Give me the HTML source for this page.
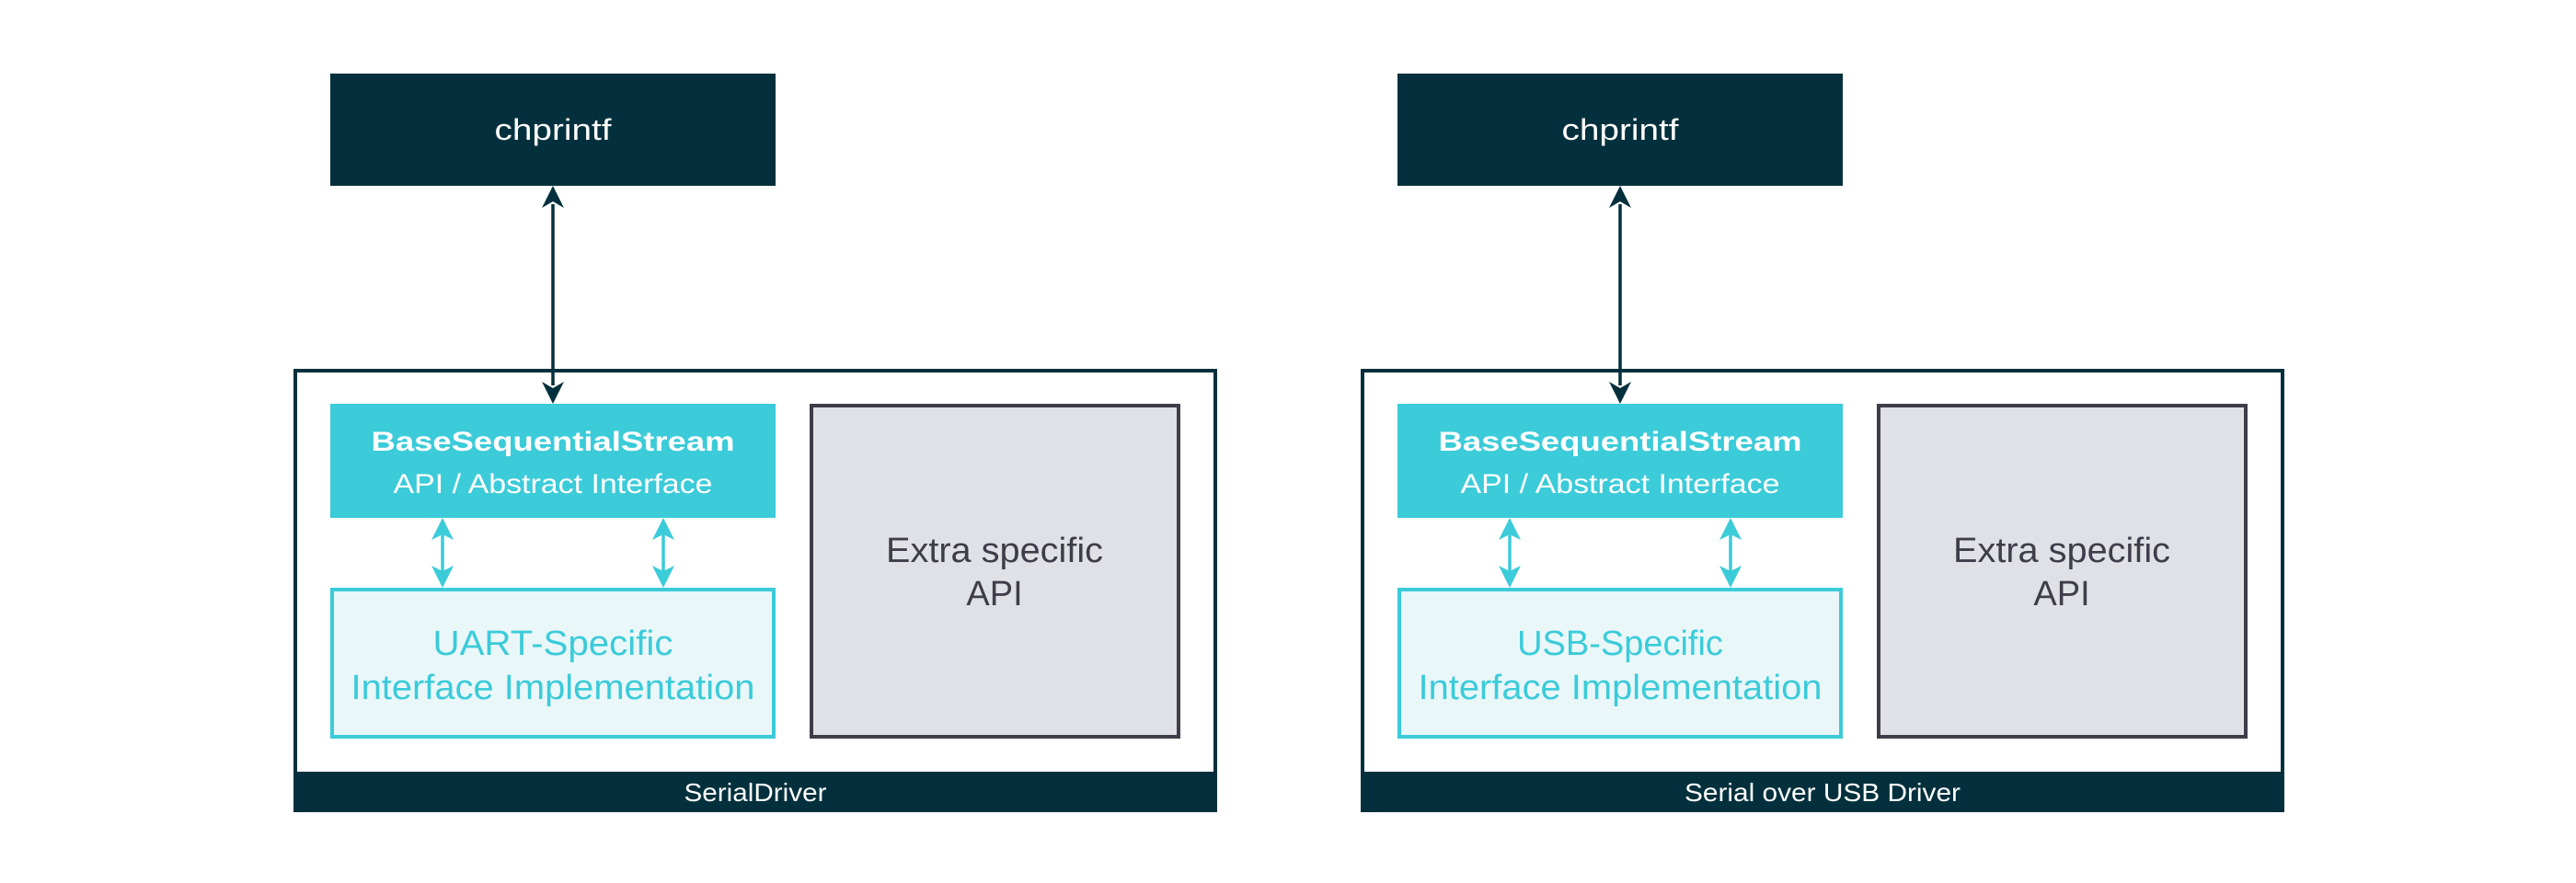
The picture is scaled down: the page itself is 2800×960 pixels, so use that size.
<!DOCTYPE html>
<html><head><meta charset="utf-8"><style>
html,body{margin:0;padding:0;background:#fff;}
svg{display:block;}
</style></head><body>
<svg width="2800" height="960" viewBox="0 0 2800 960" xmlns="http://www.w3.org/2000/svg" font-family="'Liberation Sans', sans-serif">
<defs>
<g id="dia">
  <!-- outer frame -->
  <rect x="321" y="403" width="1000" height="478" fill="#fff" stroke="#03303C" stroke-width="4"/>
  <rect x="319" y="839" width="1004" height="44" fill="#03303C"/>
  <!-- chprintf -->
  <rect x="359" y="80" width="484" height="122" fill="#03303C"/>
  <text x="601" y="152" font-size="32" fill="#fff" text-anchor="middle" textLength="127" lengthAdjust="spacingAndGlyphs">chprintf</text>
  <!-- main arrow -->
  <line x1="601" y1="222" x2="601" y2="419" stroke="#03303C" stroke-width="3.5"/>
  <polygon points="601,202 589,226 601,219 613,226" fill="#03303C"/>
  <polygon points="601,439 589,415 601,422 613,415" fill="#03303C"/>
  <!-- BSS -->
  <rect x="359" y="439" width="484" height="124" fill="#3BCBD9"/>
  <!-- UART -->
  <rect x="361" y="641" width="480" height="160" fill="#E9F7F9" stroke="#3BCBD9" stroke-width="4"/>
  <!-- small arrows -->
  <g fill="#3BCBD9" stroke="#3BCBD9">
    <line x1="481" y1="580" x2="481" y2="622" stroke-width="3.5"/>
    <polygon points="481,563 469,587 481,581 493,587" stroke="none"/>
    <polygon points="481,639 469,615 481,621 493,615" stroke="none"/>
    <line x1="721" y1="580" x2="721" y2="622" stroke-width="3.5"/>
    <polygon points="721,563 709,587 721,581 733,587" stroke="none"/>
    <polygon points="721,639 709,615 721,621 733,615" stroke="none"/>
  </g>
  <!-- extra -->
  <rect x="882" y="441" width="399" height="360" fill="#E0E1E6" stroke="#3F3D4A" stroke-width="4"/>
  <text x="1081" y="611" font-size="38" fill="#3F3D4A" text-anchor="middle" textLength="236" lengthAdjust="spacingAndGlyphs">Extra specific</text>
  <text x="1081" y="658" font-size="38" fill="#3F3D4A" text-anchor="middle">API</text>
</g>
</defs>
<use href="#dia"/>
<use href="#dia" transform="translate(1160,0)"/>

<!-- left texts -->
<text x="601" y="490" font-size="30" font-weight="bold" fill="#fff" text-anchor="middle" textLength="395" lengthAdjust="spacingAndGlyphs">BaseSequentialStream</text>
<text x="601" y="536" font-size="30" fill="#fff" text-anchor="middle" textLength="347" lengthAdjust="spacingAndGlyphs">API / Abstract Interface</text>
<text x="601" y="712" font-size="38" fill="#3BCBD9" text-anchor="middle" textLength="261" lengthAdjust="spacingAndGlyphs">UART-Specific</text>
<text x="601" y="760" font-size="38" fill="#3BCBD9" text-anchor="middle" textLength="439" lengthAdjust="spacingAndGlyphs">Interface Implementation</text>
<text x="821" y="871" font-size="28" fill="#fff" text-anchor="middle" textLength="155" lengthAdjust="spacingAndGlyphs">SerialDriver</text>

<!-- right texts -->
<text x="1761" y="490" font-size="30" font-weight="bold" fill="#fff" text-anchor="middle" textLength="395" lengthAdjust="spacingAndGlyphs">BaseSequentialStream</text>
<text x="1761" y="536" font-size="30" fill="#fff" text-anchor="middle" textLength="347" lengthAdjust="spacingAndGlyphs">API / Abstract Interface</text>
<text x="1761" y="712" font-size="38" fill="#3BCBD9" text-anchor="middle">USB-Specific</text>
<text x="1761" y="760" font-size="38" fill="#3BCBD9" text-anchor="middle" textLength="439" lengthAdjust="spacingAndGlyphs">Interface Implementation</text>
<text x="1981" y="871" font-size="28" fill="#fff" text-anchor="middle" textLength="300" lengthAdjust="spacingAndGlyphs">Serial over USB Driver</text>
</svg>
</body></html>
